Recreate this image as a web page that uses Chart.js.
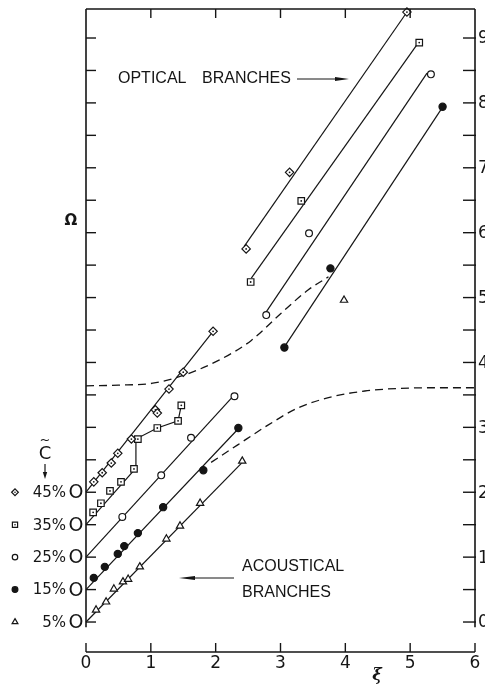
<!DOCTYPE html>
<html>
<head>
<meta charset="utf-8">
<script src="https://cdn.jsdelivr.net/npm/chart.js@4.4.1/dist/chart.umd.min.js"></script>
<style>
  html, body { margin: 0; padding: 0; background: #fff; }
  canvas { display: block; }
</style>
</head>
<body>
<canvas id="dispersion" width="485" height="685"></canvas>
<script>
// --- DATA ---
// xi on x, Omega on y; each concentration is shifted up by its own offset
const xiTicks = [0, 1, 2, 3, 4, 5, 6];
const omegaTicks = [0, 1, 2, 3, 4, 5, 6, 7, 8, 9];
const concLabels = ['45%', '35%', '25%', '15%', '5%'];
const concOffsets = [2.0, 1.5, 1.0, 0.5, 0];

// acoustical branch, measured points [xi, Omega]
const acoustic45 = [[0.12, 2.16], [0.25, 2.30], [0.39, 2.45], [0.49, 2.60], [0.70, 2.82],
                    [1.07, 3.27], [1.10, 3.22], [1.28, 3.59], [1.50, 3.85], [1.96, 4.48]];
const acoustic35 = [[0.11, 1.69], [0.23, 1.83], [0.37, 2.02], [0.54, 2.16], [0.74, 2.36],
                    [0.80, 2.82], [1.10, 2.99], [1.42, 3.10], [1.47, 3.34]];
const acoustic25 = [[0.56, 1.62], [1.16, 2.26], [1.62, 2.84], [2.29, 3.48]];
const acoustic15 = [[0.12, 0.68], [0.29, 0.85], [0.49, 1.05], [0.59, 1.17], [0.80, 1.37],
                    [1.19, 1.77], [1.81, 2.34], [2.35, 2.99]];
const acoustic5  = [[0.155, 0.185], [0.31, 0.31], [0.43, 0.51], [0.57, 0.62], [0.65, 0.66],
                    [0.83, 0.85], [1.24, 1.28], [1.45, 1.48], [1.76, 1.83], [2.41, 2.48]];

// acoustical drawn lines
const acFit45 = [[0, 2.0], [1.96, 4.48]];
const acFit35 = [[0, 1.5], [0.76, 2.36], [0.77, 2.82], [1.10, 2.99], [1.42, 3.10], [1.47, 3.34]];
const acFit25 = [[0, 1.0], [2.26, 3.47]];
const acFit15 = [[0, 0.5], [2.36, 2.99]];
const acFit5  = [[0, 0], [2.43, 2.48]];

// optical branch points and lines
const optical45 = [[2.47, 5.75], [3.14, 6.93], [4.95, 9.40]];
const optical35 = [[2.54, 5.24], [3.32, 6.49], [5.14, 8.93]];
const optical25 = [[2.78, 4.73], [3.44, 5.99], [5.32, 8.44]];
const optical15 = [[3.06, 4.23], [3.77, 5.45], [5.50, 7.94]];
const optical5  = [[3.98, 4.96]];
const opFit45 = [[2.44, 5.79], [4.93, 9.37]];
const opFit35 = [[2.55, 5.30], [5.10, 8.89]];
const opFit25 = [[2.78, 4.78], [5.26, 8.46]];
const opFit15 = [[3.06, 4.24], [5.49, 7.92]];

// dashed theory curves
const dashUpper = [[0, 3.64], [0.5, 3.65], [1.03, 3.68], [1.44, 3.78], [2.06, 4.04],
                   [2.55, 4.34], [3.01, 4.76], [3.43, 5.12], [3.74, 5.32]];
const dashLower = [[1.93, 2.46], [2.34, 2.73], [2.80, 3.03], [3.27, 3.30], [3.79, 3.47],
                   [4.30, 3.56], [4.82, 3.60], [5.33, 3.61], [6, 3.61]];

// --- STYLES ---
const INK = '#151515';
const markerStyles = [
    { pointStyle: 'rectRot', radius: 4.2, bg: '#fff', dot: true },
    { pointStyle: 'rect', radius: 4.6, bg: '#fff', dot: true },
    { pointStyle: 'circle', radius: 3.4, bg: '#fff', dot: false },
    { pointStyle: 'circle', radius: 3.6, bg: INK, dot: false },
    { pointStyle: 'triangle', radius: 4.2, bg: '#fff', dot: false }
];

const toXY = arr => arr.map(p => ({ x: p[0], y: p[1] }));

function markerSet(data, s) {
    return {
        data: toXY(data), showLine: false, clip: false, order: 1,
        pointStyle: s.pointStyle, pointRadius: s.radius,
        pointBackgroundColor: s.bg, pointBorderColor: INK, pointBorderWidth: 1.2
    };
}
function dotSet(data) {
    return {
        data: toXY(data), showLine: false, clip: false, order: 0,
        pointStyle: 'circle', pointRadius: 0.9,
        pointBackgroundColor: INK, pointBorderWidth: 0
    };
}
function lineSet(data, extra) {
    return Object.assign({
        data: toXY(data), showLine: true, clip: false, order: 2,
        pointRadius: 0, borderColor: INK, borderWidth: 1.2, fill: false
    }, extra || {});
}

const acousticSets = [acoustic45, acoustic35, acoustic25, acoustic15, acoustic5];
const opticalSets = [optical45, optical35, optical25, optical15, optical5];
const acFits = [acFit45, acFit35, acFit25, acFit15, acFit5];
const opFits = [opFit45, opFit35, opFit25, opFit15];

const datasets = [];
acFits.forEach(f => datasets.push(lineSet(f)));
opFits.forEach(f => datasets.push(lineSet(f)));
[dashUpper, dashLower].forEach(d => datasets.push(lineSet(d, {
    borderDash: [8, 5], borderWidth: 1.3, cubicInterpolationMode: 'monotone'
})));
markerStyles.forEach((s, i) => {
    datasets.push(markerSet(acousticSets[i], s));
    datasets.push(markerSet(opticalSets[i], s));
    if (s.dot) {
        datasets.push(dotSet(acousticSets[i]));
        datasets.push(dotSet(opticalSets[i]));
    }
});

// --- FRAME, TICKS, TEXT ---
function seg(ctx, x1, y1, x2, y2) {
    ctx.beginPath(); ctx.moveTo(x1, y1); ctx.lineTo(x2, y2); ctx.stroke();
}
function arrowHead(ctx, tipX, tipY, dx, dy, len, half) {
    // dx,dy = unit direction of the arrow
    ctx.beginPath();
    ctx.moveTo(tipX, tipY);
    ctx.lineTo(tipX - dx * len - dy * half, tipY - dy * len + dx * half);
    ctx.lineTo(tipX - dx * len + dy * half, tipY - dy * len - dx * half);
    ctx.closePath();
    ctx.fill();
}

const framePlugin = {
    id: 'frame',
    afterDraw(chart) {
        const { ctx, chartArea: a, scales: { x, y } } = chart;
        ctx.save();
        ctx.strokeStyle = INK;
        ctx.fillStyle = INK;
        ctx.lineWidth = 1.6;

        const vBottom = y.getPixelForValue(-0.08);
        seg(ctx, a.left, a.top, a.right, a.top);
        seg(ctx, a.left, a.top, a.left, vBottom);
        seg(ctx, a.right, a.top, a.right, vBottom);
        seg(ctx, a.left, a.bottom, a.right, a.bottom);

        // bottom axis ticks + labels
        ctx.lineWidth = 1.4;
        ctx.font = '17px "DejaVu Sans", sans-serif';
        ctx.textAlign = 'center';
        ctx.textBaseline = 'middle';
        xiTicks.forEach(v => {
            const px = x.getPixelForValue(v);
            seg(ctx, px, a.bottom, px, a.bottom - 9);
            ctx.fillText(String(v), px, a.bottom + 12);
            if (v > 0 && v < 6) seg(ctx, px, a.top, px, a.top + 9);
        });

        // left and right ticks every half unit
        for (let v = 0; v <= 9; v += 0.5) {
            const py = y.getPixelForValue(v);
            seg(ctx, a.left, py, a.left + 10, py);
            seg(ctx, a.right - 12, py, a.right + 1, py);
        }
        ctx.textAlign = 'left';
        omegaTicks.forEach(v => {
            ctx.fillText(String(v), a.right + 3, y.getPixelForValue(v) + 1);
        });

        // axis titles
        ctx.textAlign = 'center';
        ctx.font = 'bold 15px "DejaVu Sans", sans-serif';
        ctx.fillText('\u03A9', 71, 221);
        ctx.font = 'bold italic 16px "DejaVu Serif", serif';
        ctx.fillText('\u03BE', 377, 676);

        // concentration key: C-tilde with arrow, then one row per offset
        ctx.font = '18px "DejaVu Sans", sans-serif';
        ctx.fillText('C', 45, 454);
        ctx.font = '13px "DejaVu Sans", sans-serif';
        ctx.fillText('~', 45, 441);
        ctx.lineWidth = 1.2;
        seg(ctx, 45, 464, 45, 474);
        arrowHead(ctx, 45, 479, 0, 1, 7, 2.2);

        concLabels.forEach((lab, i) => {
            const py = y.getPixelForValue(concOffsets[i]);
            const s = markerStyles[i];
            ctx.fillStyle = s.bg;
            ctx.strokeStyle = INK;
            ctx.lineWidth = 1.2;
            Chart.helpers.drawPoint(ctx, {
                pointStyle: s.pointStyle, radius: s.radius * 0.8, borderWidth: 1.2, rotation: 0
            }, 15, py);
            ctx.fillStyle = INK;
            if (s.dot) { ctx.beginPath(); ctx.arc(15, py, 0.8, 0, Math.PI * 2); ctx.fill(); }
            ctx.textAlign = 'right';
            ctx.font = '15px "DejaVu Sans", sans-serif';
            ctx.fillText(lab, 66, py + 1);
            ctx.textAlign = 'center';
            ctx.font = '19px "DejaVu Sans", sans-serif';
            ctx.fillText('O', 76, py + 1);
        });

        // branch annotations
        ctx.textAlign = 'left';
        ctx.font = '16px "Liberation Sans", sans-serif';
        ctx.fillText('OPTICAL', 118, 79);
        ctx.fillText('BRANCHES', 202, 79);
        ctx.fillText('ACOUSTICAL', 242, 567);
        ctx.fillText('BRANCHES', 242, 593);
        ctx.lineWidth = 1;
        seg(ctx, 297, 79, 340, 79);
        arrowHead(ctx, 349, 79, 1, 0, 14, 2);
        seg(ctx, 188, 578, 234, 578);
        arrowHead(ctx, 179, 578, -1, 0, 16, 2);

        ctx.restore();
    }
};

new Chart(document.getElementById('dispersion'), {
    type: 'scatter',
    data: { datasets: datasets },
    options: {
        responsive: false,
        animation: false,
        devicePixelRatio: 1,
        layout: { padding: { left: 86, right: 10, top: 9, bottom: 33 } },
        plugins: { legend: { display: false }, tooltip: { enabled: false } },
        scales: {
            x: { type: 'linear', min: 0, max: 6, display: false },
            y: { type: 'linear', min: -0.462, max: 9.447, display: false }
        }
    },
    plugins: [framePlugin]
});
</script>
</body>
</html>
